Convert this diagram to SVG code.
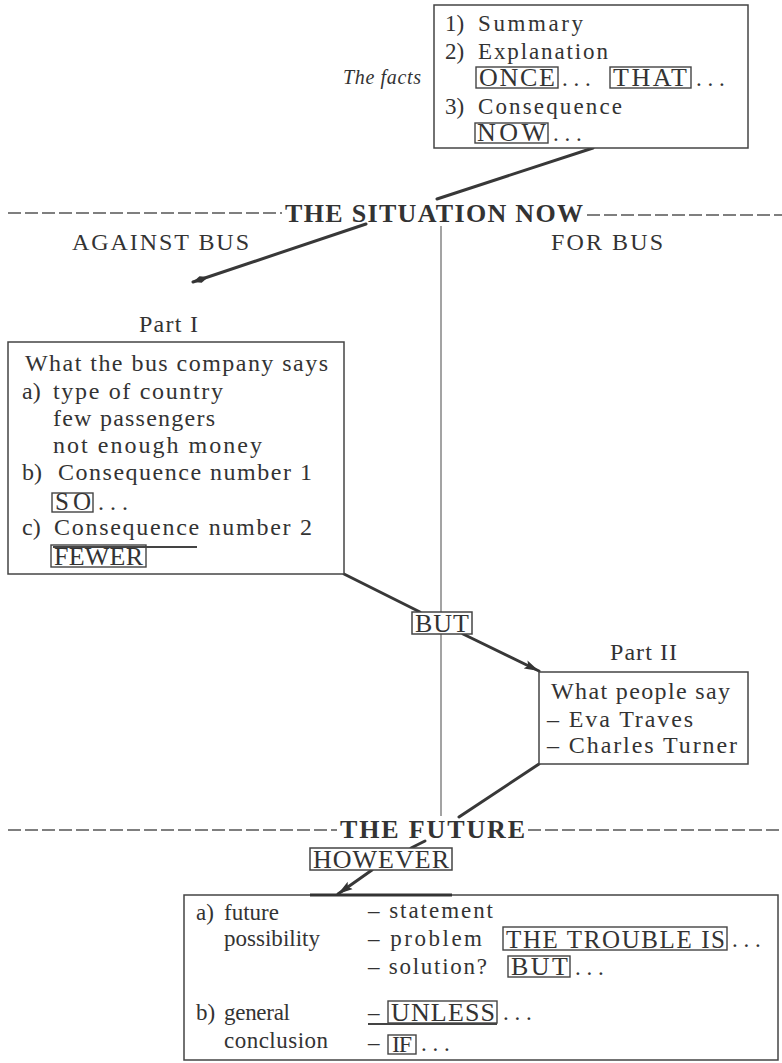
<svg xmlns="http://www.w3.org/2000/svg" width="782" height="1063" viewBox="0 0 782 1063">
<style>
.t{font-family:"Liberation Serif","Times New Roman",serif;font-size:24px;fill:#333}
.s{font-size:23px}
.k{font-size:26px}
.i{font-style:italic;font-size:20px}
.h{font-weight:bold;font-size:26px}
.box{fill:#fff;stroke:#444;stroke-width:1.5}
.kw{fill:none;stroke:#444;stroke-width:1.4}
.conn{stroke:#383838;stroke-width:3;fill:none;stroke-linecap:round}
.div{stroke:#666;stroke-width:1.2;fill:none}
.dash{stroke:#555;stroke-width:1.5;stroke-dasharray:13 4;fill:none}
.ul{stroke:#444;stroke-width:2.2}
</style>
<defs>
<marker id="spear" markerUnits="userSpaceOnUse" markerWidth="18" markerHeight="10" refX="16" refY="5" orient="auto">
<path d="M0,5 L8,1.5 L16,5 L8,8.5 Z" fill="#333"/>
</marker>
<marker id="arr" markerUnits="userSpaceOnUse" markerWidth="16" markerHeight="10" refX="15" refY="5" orient="auto">
<path d="M0,0.5 L15,5 L0,9.5 L3,5 Z" fill="#333"/>
</marker>
</defs>
<rect width="782" height="1063" fill="#fff"/>

<g id="connectors">
<line class="div" x1="441" y1="226" x2="441" y2="816"/>
<line class="conn" x1="593" y1="148" x2="437" y2="199"/>
<line class="conn" x1="366" y1="224" x2="193" y2="282" marker-end="url(#spear)"/>
<line class="conn" x1="344" y1="574" x2="420" y2="612"/>
<line class="conn" x1="463" y1="634" x2="539" y2="671" marker-end="url(#arr)"/>
<line class="conn" x1="539" y1="764" x2="459" y2="817"/>
<line class="conn" x1="425" y1="841" x2="411" y2="848"/>
<line class="conn" x1="372" y1="870" x2="338" y2="894" marker-end="url(#arr)"/>
</g>

<g id="facts">
<text class="t i" x="343" y="84" textLength="78">The facts</text>
<rect class="box" x="434" y="5" width="314" height="143"/>
<text class="t s" x="445" y="31">1)</text>
<text class="t s" x="478" y="31" textLength="105">Summary</text>
<text class="t s" x="445" y="59">2)</text>
<text class="t s" x="478" y="59" textLength="130">Explanation</text>
<rect class="kw" x="476" y="67" width="82" height="21"/>
<text class="t k" x="479" y="86" textLength="76">ONCE</text>
<text class="t s" x="562" y="86">. . .</text>
<rect class="kw" x="610" y="67" width="81" height="21"/>
<text class="t k" x="613" y="86" textLength="74">THAT</text>
<text class="t s" x="696" y="86">. . .</text>
<text class="t s" x="445" y="114">3)</text>
<text class="t s" x="478" y="114" textLength="144">Consequence</text>
<rect class="kw" x="475" y="123" width="73" height="20"/>
<text class="t k" x="477" y="141" textLength="69">NOW</text>
<text class="t s" x="553" y="141">. . .</text>
</g>

<g id="heading-situation">
<line class="dash" x1="8" y1="213" x2="282" y2="213"/>
<text class="t h" x="285" y="222" textLength="298">THE SITUATION NOW</text>
<line class="dash" x1="587" y1="215" x2="782" y2="215"/>
<text class="t" x="72" y="250" textLength="177">AGAINST BUS</text>
<text class="t" x="551" y="250" textLength="112">FOR BUS</text>
</g>

<g id="part1">
<text class="t" x="139" y="332" textLength="59">Part I</text>
<rect class="box" x="8" y="342" width="336" height="232"/>
<text class="t" x="25" y="371" textLength="303">What the bus company says</text>
<text class="t" x="22" y="399">a)</text>
<text class="t" x="53" y="399" textLength="170">type of country</text>
<text class="t" x="53" y="426" textLength="162">few passengers</text>
<text class="t" x="53" y="453" textLength="209">not enough money</text>
<text class="t" x="22" y="480">b)</text>
<text class="t" x="58" y="480" textLength="254">Consequence number 1</text>
<rect class="kw" x="52" y="493" width="41" height="19"/>
<text class="t" x="55" y="510" textLength="36" style="font-size:25px">SO</text>
<text class="t" x="98" y="510">. . .</text>
<text class="t" x="22" y="535">c)</text>
<text class="t" x="54" y="535" textLength="258">Consequence number 2</text>
<line class="ul" x1="53" y1="547" x2="197" y2="547"/>
<rect class="kw" x="51" y="545" width="95" height="22"/>
<text class="t k" x="54" y="565" textLength="89">FEWER</text>
</g>

<g id="but">
<rect class="box" x="412" y="612" width="60" height="22"/>
<text class="t k" x="415" y="632" textLength="54">BUT</text>
</g>

<g id="part2">
<text class="t" x="610" y="660" textLength="67">Part II</text>
<rect class="box" x="539" y="672" width="209" height="92"/>
<text class="t" x="551" y="699" textLength="179">What people say</text>
<text class="t" x="547" y="727" textLength="146">– Eva Traves</text>
<text class="t" x="547" y="753" textLength="190">– Charles Turner</text>
</g>

<g id="heading-future">
<line class="dash" x1="8" y1="830" x2="337" y2="830"/>
<text class="t h" x="340" y="838" textLength="185">THE FUTURE</text>
<line class="dash" x1="528" y1="830" x2="782" y2="830"/>
</g>

<g id="however">
<rect class="box" x="310" y="848" width="142" height="22"/>
<text class="t k" x="313" y="868" textLength="136">HOWEVER</text>
</g>

<g id="future-box">
<rect class="box" x="184" y="895" width="594" height="165"/>
<line x1="310" y1="895" x2="452" y2="895" stroke="#333" stroke-width="3"/>
<text class="t s" x="196" y="920">a)</text>
<text class="t s" x="224" y="920">future</text>
<text class="t s" x="224" y="946" textLength="96">possibility</text>
<text class="t s" x="368" y="918" textLength="125">– statement</text>
<text class="t s" x="368" y="946" textLength="114">– problem</text>
<rect class="kw" x="503" y="927" width="224" height="23"/>
<text class="t" x="506" y="948" textLength="219" style="font-size:25px">THE TROUBLE IS</text>
<text class="t s" x="732" y="947">. . .</text>
<text class="t s" x="368" y="974" textLength="119">– solution?</text>
<rect class="kw" x="508" y="956" width="62" height="21"/>
<text class="t k" x="511" y="975" textLength="57">BUT</text>
<text class="t s" x="575" y="975">. . .</text>
<text class="t s" x="196" y="1020">b)</text>
<text class="t s" x="224" y="1020" textLength="66">general</text>
<text class="t s" x="224" y="1048" textLength="104">conclusion</text>
<text class="t s" x="368" y="1020">–</text>
<rect class="kw" x="388" y="1001" width="109" height="22"/>
<text class="t k" x="391" y="1021" textLength="104">UNLESS</text>
<line class="ul" x1="368" y1="1024" x2="497" y2="1024"/>
<text class="t s" x="503" y="1020">. . .</text>
<text class="t s" x="368" y="1050">–</text>
<rect class="kw" x="388" y="1035" width="28" height="19"/>
<text class="t" x="392" y="1052" textLength="20" style="font-size:24px">IF</text>
<text class="t s" x="421" y="1051">. . .</text>
</g>
</svg>
